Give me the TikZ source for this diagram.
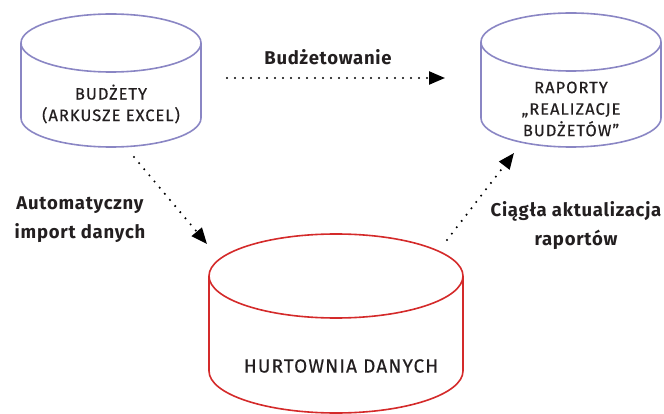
\documentclass[tikz,border=0pt]{standalone}
\usepackage{fontspec}
\setmainfont{Fira Sans}
\usetikzlibrary{arrows.meta,calc}
\definecolor{lav}{HTML}{8A86C4}
\definecolor{cred}{HTML}{D42A2A}
\definecolor{txt}{HTML}{231F20}
\tikzset{
  cyltext/.style={text=txt,font=\fontsize{16.5}{21.5}\selectfont\addfontfeatures{LetterSpace=6,FakeBold=0.4},align=center},
  lbl/.style={text=txt,font=\fontsize{18.5}{29}\selectfont\bfseries\addfontfeatures{LetterSpace=4},align=center},
  flow/.style={draw=black,line width=2.3pt,dash pattern=on 0pt off 8pt,line cap=round,
    -{Triangle[length=16pt,width=13pt,line cap=butt]}},
}
% \cylshape{name}{cx}{ytop}{rx}{ry}{ybottom}{colour}{width}
\newcommand{\cylshape}[8]{%
  \node[minimum width=2*#4, minimum height=#6-#3+2*#5, inner sep=0pt] (#1) at (#2,{(#3+#6)/2}) {};
  \draw[#7,line width=#8] (#2-#4,#3) arc[start angle=180,end angle=-180,x radius=#4,y radius=#5];
  \draw[#7,line width=#8] (#2-#4,#3) -- (#2-#4,#6) arc[start angle=180,end angle=0,x radius=#4,y radius=#5] -- (#2+#4,#3);
}
\begin{document}
\begin{tikzpicture}[x=1pt,y=-1pt]
\useasboundingbox (0,0) rectangle (664,414);
\cylshape{bud}{111}{43}{90}{29}{118}{lav}{1.6pt}
\cylshape{rap}{571}{42}{90}{29}{118}{lav}{1.6pt}
\cylshape{hur}{336}{276}{127}{42}{371}{cred}{1.6pt}
\node[cyltext] (budt) at (111,104) {BUDŻETY\\(ARKUSZE EXCEL)};
\node[cyltext] (rapt) at (571,109) {RAPORTY\\„REALIZACJE\\BUDŻETÓW”};
\node[cyltext,font=\fontsize{19}{21}\selectfont\addfontfeatures{LetterSpace=6,FakeBold=0.4}] (hurt) at (341,366) {HURTOWNIA DANYCH};
\node[lbl] (l1) at (328,57) {Budżetowanie};
\node[lbl] (l2) at (80,220) {Automatyczny\\import danych};
\node[lbl] (l3) at (576,226) {Ciągła aktualizacja\\raportów};
\coordinate (a1s) at (227,78);
\coordinate (a1e) at (445,78);
\coordinate (a2s) at (134,157);
\coordinate (a2e) at (207,244);
\coordinate (a3s) at (447,240);
\coordinate (a3e) at (514,153);
\draw[flow] (a1s) -- (a1e);
\draw[flow] (a2s) -- (a2e);
\draw[flow] (a3s) -- (a3e);
\end{tikzpicture}
\end{document}
